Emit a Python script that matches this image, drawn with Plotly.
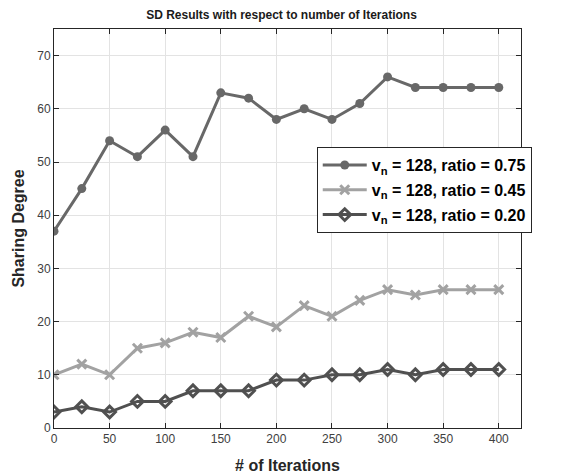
import plotly.graph_objects as go

iterations = [0, 25, 50, 75, 100, 125, 150, 175, 200, 225, 250, 275, 300, 325, 350, 375, 400]
ratio_075 = [37, 45, 54, 51, 56, 51, 63, 62, 58, 60, 58, 61, 66, 64, 64, 64, 64]
ratio_045 = [10, 12, 10, 15, 16, 18, 17, 21, 19, 23, 21, 24, 26, 25, 26, 26, 26]
ratio_020 = [3, 4, 3, 5, 5, 7, 7, 7, 9, 9, 10, 10, 11, 10, 11, 11, 11]
names = ["v<sub>n</sub> = 128, ratio = 0.75",
         "v<sub>n</sub> = 128, ratio = 0.45",
         "v<sub>n</sub> = 128, ratio = 0.20"]

fig = go.Figure()
fig.add_trace(go.Scatter(x=iterations, y=ratio_075, name="<b>" + names[0] + "</b>", mode="lines+markers",
                         legendgroup="a",
                         line=dict(color="#686868", width=3),
                         marker=dict(symbol="circle", size=9, color="#686868")))
fig.add_trace(go.Scatter(x=iterations, y=ratio_045, name="<b>" + names[1] + "</b>", mode="lines+markers",
                         legendgroup="b",
                         line=dict(color="#a2a2a2", width=3),
                         marker=dict(symbol="x-thin", size=9, color="#a2a2a2",
                                     line=dict(color="#a2a2a2", width=3))))
fig.add_trace(go.Scatter(x=iterations, y=ratio_020, name="<b>" + names[2] + "</b>", mode="lines+markers",
                         legendgroup="c",
                         line=dict(color="#505050", width=3),
                         marker=dict(symbol="diamond-open", size=9, color="#505050",
                                     line=dict(color="#505050", width=3))))

axis_common = dict(showline=True, linecolor="#262626", linewidth=1, mirror="allticks",
                   ticks="inside", ticklen=5, tickcolor="#262626", automargin=False,
                   showgrid=True, gridcolor="#e3e3e3", gridwidth=1, zeroline=False,
                   tickfont=dict(family="Arial, Liberation Sans", size=12, color="#404040"))

fig.update_layout(
    width=563, height=475,
    margin=dict(l=54, r=42, t=29, b=47),
    paper_bgcolor="white", plot_bgcolor="white",
    title=dict(text="<b>SD Results with respect to number of Iterations</b>",
               x=0.5, xanchor="center", y=0.968, yanchor="middle",
               font=dict(family="Arial, Liberation Sans", size=12, color="#1a1a1a")),
    xaxis=dict(range=[0, 420], tickvals=list(range(0, 401, 50)),
               title=dict(text="<b># of Iterations</b>", standoff=14,
                          font=dict(family="Arial, Liberation Sans", size=16, color="#262626")),
               **axis_common),
    yaxis=dict(range=[0, 75], tickvals=list(range(0, 71, 10)),
               title=dict(text="<b>Sharing Degree</b>", standoff=8,
                          font=dict(family="Arial, Liberation Sans", size=16, color="#262626")),
               **axis_common),
    legend=dict(x=1.023, xanchor="right", y=0.704, yanchor="top",
                bgcolor="white", bordercolor="#262626", borderwidth=1,
                font=dict(family="Arial, Liberation Sans", size=16, color="#000000"),
                itemwidth=44, tracegroupgap=1),
    showlegend=True,
)

fig.write_html("out.html", config={"displayModeBar": False},
               post_script="document.body.style.margin='0';document.body.style.padding='0';")
